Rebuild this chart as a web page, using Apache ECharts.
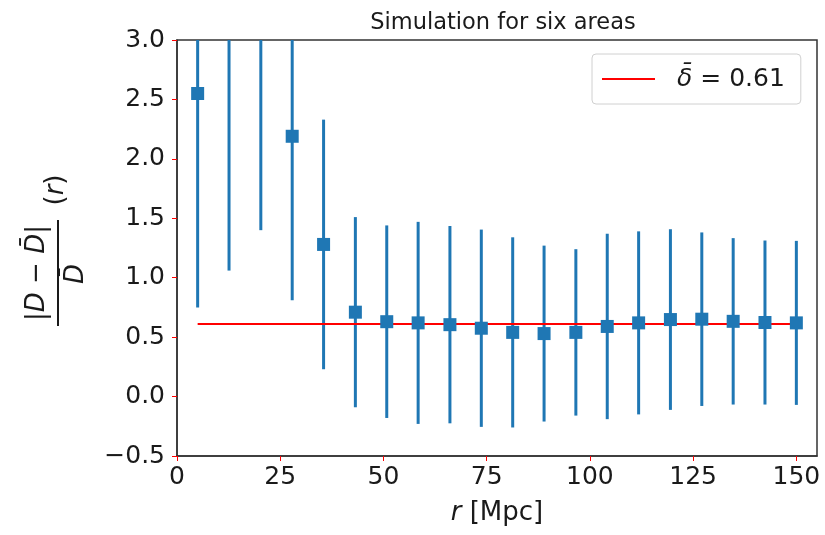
<!DOCTYPE html>
<html>
<head>
<meta charset="utf-8">
<script src="https://cdn.jsdelivr.net/npm/echarts@6/dist/echarts.min.js"></script>
<style>
html,body{margin:0;padding:0;background:#fff;}
#chart{width:825px;height:535px;}
</style>
</head>
<body>
<div id="chart"></div>
<script>
// ---- data ----
const rValues = [5, 12.6, 20.3, 27.9, 35.5, 43.2, 50.8, 58.4, 66.1, 73.7, 81.3, 88.9, 96.6, 104.2, 111.8, 119.5, 127.1, 134.7, 142.4, 150];
const deltaValues = [2.55, 3.25, 3.35, 2.19, 1.28, 0.71, 0.63, 0.62, 0.605, 0.575, 0.54, 0.53, 0.54, 0.59, 0.62, 0.648, 0.651, 0.633, 0.623, 0.62];
const deltaErrors = [1.80, 2.19, 1.95, 1.38, 1.05, 0.80, 0.81, 0.85, 0.83, 0.83, 0.80, 0.74, 0.70, 0.78, 0.77, 0.76, 0.73, 0.70, 0.69, 0.69];
const meanDelta = 0.61;
const meanLineR = [5, 150];
const xTicks = [0, 25, 50, 75, 100, 125, 150];
const yTicks = [-0.5, 0, 0.5, 1.0, 1.5, 2.0, 2.5, 3.0];
const titleText = 'Simulation for six areas';

const FONT = 'DejaVu Sans';
const BLUE = '#1f77b4';
const X_MIN = 0, X_MAX = 155, Y_MIN = -0.5, Y_MAX = 3.0;

const points = rValues.map((r, i) => [r, deltaValues[i], deltaErrors[i]]);
const meanLine = meanLineR.map(r => [r, meanDelta]);

const chart = echarts.init(document.getElementById('chart'), null, {renderer: 'canvas'});

const option = {
  animation: false,
  backgroundColor: '#fff',
  title: {
    text: titleText,
    left: 498, textAlign: 'center', top: 7,
    textStyle: {fontFamily: FONT, fontSize: 22.5, fontWeight: 'normal', color: '#1a1a1a'}
  },
  grid: {
    left: 177, top: 40, right: 8, bottom: 79,
    show: true, borderColor: '#333', borderWidth: 1.5, backgroundColor: '#fff'
  },
  legend: {
    data: [{name: 'delta', icon: 'rect'}],
    left: 592, top: 54,
    padding: [12, 16, 12, 10],
    borderColor: '#d0d0d0', borderWidth: 1, borderRadius: 4,
    backgroundColor: '#fff',
    itemWidth: 53, itemHeight: 2,
    itemStyle: {color: 'red'},
    formatter: () => '{sp|}{i|δ\u0304} = 0.61',
    textStyle: {
      fontFamily: FONT, fontSize: 25, color: '#1a1a1a', lineHeight: 26,
      rich: {
        sp: {width: 17},
        i: {fontFamily: FONT, fontSize: 25, fontStyle: 'italic', color: '#1a1a1a'}
      }
    }
  },
  xAxis: {
    type: 'value', min: X_MIN, max: X_MAX,
    name: '{i|r} [Mpc]', nameLocation: 'middle', nameGap: 44,
    nameTextStyle: {
      fontFamily: FONT, fontSize: 26, color: '#1a1a1a',
      rich: {i: {fontFamily: FONT, fontSize: 26, fontStyle: 'italic', color: '#1a1a1a'}}
    },
    axisLine: {show: true, onZero: false, lineStyle: {color: '#333', width: 1.5}},
    axisTick: {show: true, inside: false, length: 5, customValues: xTicks, lineStyle: {color: 'red', width: 1}},
    axisLabel: {customValues: xTicks, margin: 9, fontFamily: FONT, fontSize: 25, color: '#1a1a1a'},
    splitLine: {show: false}
  },
  yAxis: {
    type: 'value', min: Y_MIN, max: Y_MAX, interval: 0.5,
    axisLine: {show: true, onZero: false, lineStyle: {color: '#333', width: 1.5}},
    axisTick: {show: true, inside: false, length: 5, customValues: yTicks, lineStyle: {color: 'red', width: 1}},
    axisLabel: {
      customValues: yTicks, margin: 12, fontFamily: FONT, fontSize: 25, color: '#1a1a1a',
      formatter: v => (v < 0 ? '\u2212' : '') + Math.abs(v).toFixed(1)
    },
    splitLine: {show: false}
  },
  series: [
    {
      name: 'errorbars',
      type: 'custom',
      clip: true,
      data: points,
      renderItem: function (params, api) {
        const x = api.value(0), v = api.value(1), e = api.value(2);
        const lo = Math.max(v - e, Y_MIN), hi = Math.min(v + e, Y_MAX);
        const p1 = api.coord([x, lo]);
        const p2 = api.coord([x, hi]);
        return {
          type: 'line',
          shape: {x1: p1[0], y1: p1[1], x2: p2[0], y2: p2[1]},
          style: {stroke: BLUE, lineWidth: 3}
        };
      },
      z: 2
    },
    {
      name: 'delta',
      type: 'line',
      data: meanLine,
      symbol: 'none',
      lineStyle: {color: 'red', width: 2},
      itemStyle: {color: 'red'},
      z: 3
    },
    {
      name: 'points',
      type: 'scatter',
      clip: true,
      data: points.map(p => [p[0], p[1]]),
      symbol: 'rect',
      symbolSize: 13,
      itemStyle: {color: BLUE, opacity: 1},
      z: 4
    }
  ],
  graphic: [
    {
      type: 'group',
      x: 58, y: 273,
      rotation: Math.PI / 2,
      children: [
        {
          type: 'text', x: 0, y: -21,
          style: {
            text: '|{i|D} \u2212 {i|D\u0304}|',
            rich: {i: {fontFamily: FONT, fontSize: 26, fontStyle: 'italic', fill: '#1a1a1a'}},
            fontFamily: FONT, fontSize: 26, fill: '#1a1a1a',
            align: 'center', verticalAlign: 'middle'
          }
        },
        {
          type: 'line',
          shape: {x1: -53, y1: 0, x2: 53, y2: 0},
          style: {stroke: '#1a1a1a', lineWidth: 2}
        },
        {
          type: 'text', x: -1, y: 18,
          style: {
            text: 'D\u0304',
            fontFamily: FONT, fontSize: 26, fontStyle: 'italic', fill: '#1a1a1a',
            align: 'center', verticalAlign: 'middle'
          }
        },
        {
          type: 'text', x: 83, y: -2,
          style: {
            text: '({i|r})',
            rich: {i: {fontFamily: FONT, fontSize: 26, fontStyle: 'italic', fill: '#1a1a1a'}},
            fontFamily: FONT, fontSize: 26, fill: '#1a1a1a',
            align: 'center', verticalAlign: 'middle'
          }
        }
      ]
    }
  ]
};

chart.setOption(option);
</script>
</body>
</html>
